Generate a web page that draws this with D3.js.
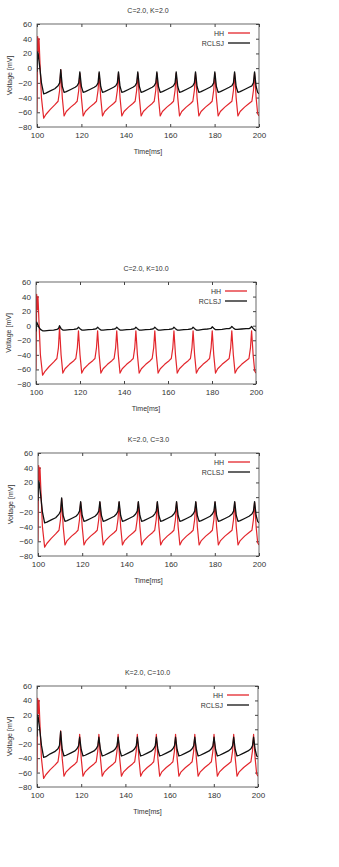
<!DOCTYPE html>
<html>
<head>
<meta charset="utf-8">
<script src="https://cdn.jsdelivr.net/npm/d3@7"></script>
<style>
  body { margin: 0; background: #fff; }
  svg { display: block; font-family: "Liberation Sans", Arial, sans-serif; }
</style>
</head>
<body>
<script>
// time samples (ms), shared by every trace
const timeMs = [
  100.0, 100.3, 100.6, 100.9, 101.3, 102.0, 103.0, 104.0, 106.0, 108.0,
  109.5, 110.2, 110.7, 111.4, 112.2, 113.2, 115.2, 117.2,
  118.1, 118.8, 119.3, 120.0, 120.8, 121.8, 123.8, 125.8,
  126.8, 127.5, 128.0, 128.7, 129.5, 130.5, 132.5, 134.5,
  135.5, 136.2, 136.7, 137.4, 138.2, 139.2, 141.2, 143.2,
  144.2, 144.9, 145.4, 146.1, 146.9, 147.9, 149.9, 151.9,
  152.8, 153.5, 154.0, 154.7, 155.5, 156.5, 158.5, 160.5,
  161.5, 162.2, 162.7, 163.4, 164.2, 165.2, 167.2, 169.2,
  170.2, 170.9, 171.4, 172.1, 172.9, 173.9, 175.9, 177.9,
  178.9, 179.6, 180.1, 180.8, 181.6, 182.6, 184.6, 186.6,
  187.8, 188.5, 189.0, 189.7, 190.5, 191.5, 193.5, 195.5,
  196.8, 197.5, 198.0, 198.7, 199.4, 200.0
];

// HH model voltage (same in all four panels)
const hhVoltage = [
  -60, 43, 22, 40, 10, -40, -68, -63, -56, -50,
  -45, -30, -2, -40, -65, -59, -53, -48,
  -45, -30, -7, -40, -65, -59, -53, -48,
  -45, -30, -7, -40, -65, -59, -53, -48,
  -45, -30, -7, -40, -65, -59, -53, -48,
  -45, -30, -7, -40, -65, -59, -53, -48,
  -45, -30, -7, -40, -65, -59, -53, -48,
  -45, -30, -7, -40, -65, -59, -53, -48,
  -45, -30, -7, -40, -65, -59, -53, -48,
  -45, -30, -7, -40, -65, -59, -53, -48,
  -45, -30, -7, -40, -65, -59, -53, -48,
  -45, -30, -7, -40, -62, -65
];

// RCLSJ voltage for each parameter set
const rclsjC2K2 = [
  -5, 22, 18, 10, 0, -20, -35, -34, -31, -28,
  -24, -20, -2, -25, -33, -32, -29, -26,
  -24, -20, -5, -25, -33, -32, -29, -26,
  -24, -20, -5, -25, -33, -32, -29, -26,
  -24, -20, -5, -25, -33, -32, -29, -26,
  -24, -20, -5, -25, -33, -32, -29, -26,
  -24, -20, -5, -25, -33, -32, -29, -26,
  -24, -20, -5, -25, -33, -32, -29, -26,
  -24, -20, -5, -25, -33, -32, -29, -26,
  -24, -20, -5, -25, -33, -32, -29, -26,
  -24, -20, -5, -25, -33, -32, -29, -26,
  -24, -20, -5, -25, -33, -35
];
const rclsjC2K10 = [
  -8, 5, 3, 1, -2, -5, -7, -7, -6.5, -6,
  -5, -4, 0, -4, -6, -6, -5.5, -5,
  -4.5, -4, -2, -4, -6, -6, -5.5, -5,
  -4.5, -4, -2, -4, -6, -6, -5.5, -5,
  -4.5, -4, -2, -4, -6, -6, -5.5, -5,
  -4.5, -4, -2, -4, -6, -6, -5.5, -5,
  -4.5, -4, -2, -4, -6, -6, -5.5, -5,
  -4.5, -4, -2, -4, -6, -6, -5.5, -5,
  -4.5, -4, -2, -4, -6, -6, -5, -4.5,
  -4, -3.5, -1.5, -3.5, -5.5, -5.5, -5, -4,
  -4, -3, -1, -3, -5, -5, -4.5, -4,
  -4, -3, -1, -4, -6, -7
];
const rclsjK2C3 = [
  -5, 22, 18, 10, 0, -20, -35, -34, -31, -28,
  -23, -19, -1, -25, -33, -32, -29, -26,
  -23, -19, -6, -25, -33, -32, -29, -26,
  -23, -19, -6, -25, -33, -32, -29, -26,
  -23, -19, -6, -25, -33, -32, -29, -26,
  -23, -19, -6, -25, -33, -32, -29, -26,
  -23, -19, -6, -25, -33, -32, -29, -26,
  -23, -19, -6, -25, -33, -32, -29, -26,
  -23, -19, -6, -25, -33, -32, -29, -26,
  -23, -19, -6, -25, -33, -32, -29, -26,
  -23, -19, -6, -25, -33, -32, -29, -26,
  -23, -19, -6, -25, -33, -35
];
const rclsjK2C10 = [
  -10, 20, 16, 8, -2, -22, -39, -38, -34, -31,
  -27, -22, -3, -28, -37, -36, -33, -30,
  -27, -23, -11, -28, -37, -36, -33, -30,
  -27, -23, -11, -28, -37, -36, -33, -30,
  -27, -23, -11, -28, -37, -36, -33, -30,
  -27, -23, -11, -28, -37, -36, -33, -30,
  -27, -23, -11, -28, -37, -36, -33, -30,
  -27, -23, -11, -28, -37, -36, -33, -30,
  -27, -23, -11, -28, -37, -36, -33, -30,
  -27, -23, -11, -28, -37, -36, -33, -30,
  -27, -23, -11, -28, -37, -36, -33, -30,
  -27, -23, -11, -28, -37, -38
];

const panelTitles = ["C=2.0, K=2.0", "C=2.0, K=10.0", "K=2.0, C=3.0", "K=2.0, C=10.0"];
const rclsjSeries = [rclsjC2K2, rclsjC2K10, rclsjK2C3, rclsjK2C10];
const seriesNames = ["HH", "RCLSJ"];
const xTicks = [100, 120, 140, 160, 180, 200];
const yTicks = [-80, -60, -40, -20, 0, 20, 40, 60];

// plot frames (pixels)
const frames = [
  { left: 37, right: 259, top: 24, bottom: 127 },
  { left: 36, right: 256, top: 282, bottom: 384 },
  { left: 38, right: 259, top: 453, bottom: 556 },
  { left: 37, right: 258, top: 686, bottom: 787 }
];

const width = 339, height = 867;
const red = "#e3262c", textColor = "#333";

let svg = d3.select("body").append("svg")
    .attr("width", width)
    .attr("height", height)
    .attr("viewBox", [0, 0, width, height]);

frames.forEach((f, i) => {
  let x = d3.scaleLinear().domain([100, 200]).range([f.left, f.right]);
  let y = d3.scaleLinear().domain([-80, 60]).range([f.bottom, f.top]);
  let g = svg.append("g");

  // title
  g.append("text")
      .attr("x", (f.left + f.right) / 2)
      .attr("y", f.top - 11)
      .attr("text-anchor", "middle")
      .attr("fill", textColor)
      .style("font-size", "7px")
      .text(panelTitles[i]);

  // axes with inward ticks, gnuplot style
  const tickLen = 3;
  g.append("g")
      .attr("transform", `translate(0,${f.bottom})`)
      .call(d3.axisBottom(x).tickValues(xTicks).tickSizeInner(-tickLen).tickSizeOuter(0).tickPadding(5))
      .call(a => a.select(".domain").remove())
      .call(a => a.selectAll("text").attr("fill", textColor).style("font-size", "8px"));
  g.append("g")
      .attr("transform", `translate(0,${f.top})`)
      .call(d3.axisTop(x).tickValues(xTicks).tickSizeInner(-tickLen).tickSizeOuter(0).tickFormat(""))
      .call(a => a.select(".domain").remove());
  g.append("g")
      .attr("transform", `translate(${f.left},0)`)
      .call(d3.axisLeft(y).tickValues(yTicks).tickSizeInner(-tickLen).tickSizeOuter(0).tickPadding(5))
      .call(a => a.select(".domain").remove())
      .call(a => a.selectAll("text").attr("fill", textColor).style("font-size", "8px"));
  g.append("g")
      .attr("transform", `translate(${f.right},0)`)
      .call(d3.axisRight(y).tickValues(yTicks).tickSizeInner(-tickLen).tickSizeOuter(0).tickFormat(""))
      .call(a => a.select(".domain").remove());
  g.selectAll(".tick line").attr("stroke", "#444");

  // axis labels
  g.append("text")
      .attr("x", (f.left + f.right) / 2)
      .attr("y", f.bottom + 27)
      .attr("text-anchor", "middle")
      .attr("fill", textColor)
      .style("font-size", "7px")
      .text("Time[ms]");
  g.append("text")
      .attr("transform", `translate(${f.left - 25},${(f.top + f.bottom) / 2}) rotate(-90)`)
      .attr("text-anchor", "middle")
      .attr("fill", textColor)
      .style("font-size", "7px")
      .text("Voltage [mV]");

  // clip traces to the frame
  g.append("clipPath").attr("id", "clip" + i)
    .append("rect")
      .attr("x", f.left).attr("y", f.top)
      .attr("width", f.right - f.left).attr("height", f.bottom - f.top);

  let line = d3.line().x(d => x(d[0])).y(d => y(d[1]));
  const hh = timeMs.map((t, k) => [t, hhVoltage[k]]);
  const rc = timeMs.map((t, k) => [t, rclsjSeries[i][k]]);

  g.append("path")
      .attr("clip-path", `url(#clip${i})`)
      .attr("d", line(hh))
      .attr("fill", "none")
      .attr("stroke", red)
      .attr("stroke-width", 1.2)
      .attr("stroke-linejoin", "round");
  g.append("path")
      .attr("clip-path", `url(#clip${i})`)
      .attr("d", line(rc))
      .attr("fill", "none")
      .attr("stroke", "#111")
      .attr("stroke-width", 1.3)
      .attr("stroke-linejoin", "round");

  // frame
  g.append("rect")
      .attr("x", f.left).attr("y", f.top)
      .attr("width", f.right - f.left).attr("height", f.bottom - f.top)
      .attr("fill", "none")
      .attr("stroke", "#444")
      .attr("stroke-width", 0.8);

  // legend
  const colors = [red, "#111"];
  seriesNames.forEach((name, j) => {
    const ly = f.top + 9 + j * 10;
    g.append("text")
        .attr("x", f.right - 35)
        .attr("y", ly + 2.5)
        .attr("text-anchor", "end")
        .attr("fill", textColor)
        .style("font-size", "7px")
        .text(name);
    g.append("line")
        .attr("x1", f.right - 31).attr("x2", f.right - 9)
        .attr("y1", ly).attr("y2", ly)
        .attr("stroke", colors[j])
        .attr("stroke-width", 1.3);
  });
});
</script>
</body>
</html>
